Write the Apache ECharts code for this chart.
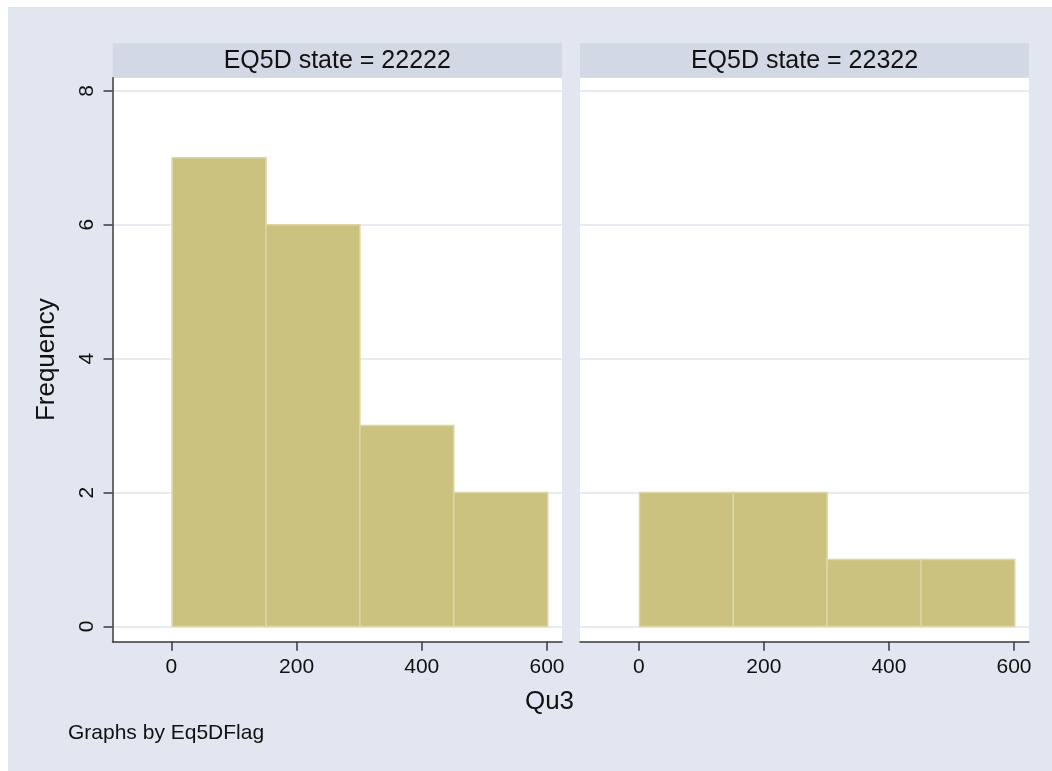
<!DOCTYPE html>
<html>
<head>
<meta charset="utf-8">
<script src="https://cdn.jsdelivr.net/npm/echarts@6/dist/echarts.min.js"></script>
<style>
  html, body { margin: 0; padding: 0; background: #e2e6f0; overflow: hidden; }
  #chart { width: 1052px; height: 771px; background: #e2e6f0; box-shadow: inset 8px 7px 0 0 #ffffff; }
</style>
</head>
<body>
<div id="chart"></div>
<script>
// ---- data ----
const panelLabels = ['EQ5D state = 22222', 'EQ5D state = 22322'];
const binEdges = [0, 150, 300, 450, 600];
const countsA = [7, 6, 3, 2];
const countsB = [2, 2, 1, 1];
const xTicks = [0, 200, 400, 600];
const yTicks = [0, 2, 4, 6, 8];
const xTitle = 'Qu3';
const yTitle = 'Frequency';
const noteText = 'Graphs by Eq5DFlag';

// ---- styling ----
const FONT = "'Liberation Sans', Arial, Helvetica, sans-serif";
const STRIP = '#d2d8e4';
const GRIDLINE = '#e0e4ee';
const AXIS = '#3a3a3a';
const FILL = '#cac27e';
const EDGE = '#dcd6a6';

const X_MIN = -94, X_MAX = 624;
const Y_MIN = -0.227, Y_MAX = 8.196;

const grids = [
  { left: 112.5, top: 77.7, width: 449.5, height: 564 },
  { left: 580, top: 77.7, width: 449, height: 564 }
];

function binData(counts) {
  return counts.map((c, i) => [binEdges[i], binEdges[i + 1], c]);
}

function renderBar(params, api) {
  const x0 = api.value(0), x1 = api.value(1), y = api.value(2);
  const p0 = api.coord([x0, y]);
  const p1 = api.coord([x1, 0]);
  return {
    type: 'rect',
    shape: { x: p0[0] + 0.75, y: p0[1], width: p1[0] - p0[0], height: p1[1] - p0[1] },
    style: { fill: FILL, stroke: EDGE, lineWidth: 1.5 }
  };
}

function xAxisCfg(idx) {
  return {
    type: 'value', gridIndex: idx, min: X_MIN, max: X_MAX,
    axisLine: { show: true, onZero: false, lineStyle: { color: AXIS, width: 1.5 } },
    axisTick: { show: true, length: 9, customValues: xTicks, lineStyle: { color: AXIS, width: 1.5 } },
    axisLabel: { customValues: xTicks, margin: 15, fontSize: 21, color: '#111', fontFamily: FONT },
    splitLine: { show: false }
  };
}

function yAxisCfg(idx) {
  const first = idx === 0;
  return {
    type: 'value', gridIndex: idx, min: Y_MIN, max: Y_MAX,
    axisLine: { show: first, onZero: false, lineStyle: { color: AXIS, width: 1.5 } },
    axisTick: { show: first, length: 9, customValues: yTicks, lineStyle: { color: AXIS, width: 1.5 } },
    axisLabel: { show: first, customValues: yTicks, rotate: 90, margin: 15, fontSize: 21, color: '#111', fontFamily: FONT },
    splitLine: { show: true, lineStyle: { color: GRIDLINE, width: 1.5 } },
    name: first ? yTitle : '',
    nameLocation: 'middle', nameRotate: 90, nameGap: 53,
    nameTextStyle: { fontSize: 26, color: '#111', fontFamily: FONT }
  };
}

const graphics = [];
grids.forEach((g, i) => {
  graphics.push({
    type: 'rect', silent: true,
    shape: { x: g.left, y: 43.3, width: g.width, height: g.top - 43.3 },
    style: { fill: STRIP }
  });
  graphics.push({
    type: 'text', silent: true,
    x: g.left + g.width / 2, y: (43.3 + g.top) / 2 + 1,
    style: { text: panelLabels[i], fill: '#111', font: '25px ' + FONT, align: 'center', verticalAlign: 'middle' }
  });
});
graphics.push({
  type: 'text', silent: true, x: 549.5, y: 702,
  style: { text: xTitle, fill: '#111', font: '26px ' + FONT, align: 'center', verticalAlign: 'middle' }
});
graphics.push({
  type: 'text', silent: true, x: 68, y: 733,
  style: { text: noteText, fill: '#111', font: '21px ' + FONT, align: 'left', verticalAlign: 'middle' }
});

const chart = echarts.init(document.getElementById('chart'), null, { renderer: 'canvas' });
chart.setOption({
  backgroundColor: 'transparent',
  animation: false,
  graphic: graphics,
  grid: grids.map(g => Object.assign({ show: true, backgroundColor: '#ffffff', borderWidth: 0, containLabel: false }, g)),
  xAxis: [xAxisCfg(0), xAxisCfg(1)],
  yAxis: [yAxisCfg(0), yAxisCfg(1)],
  series: [
    { type: 'custom', xAxisIndex: 0, yAxisIndex: 0, renderItem: renderBar, encode: { x: [0, 1], y: 2 }, data: binData(countsA) },
    { type: 'custom', xAxisIndex: 1, yAxisIndex: 1, renderItem: renderBar, encode: { x: [0, 1], y: 2 }, data: binData(countsB) }
  ]
});
</script>
</body>
</html>
